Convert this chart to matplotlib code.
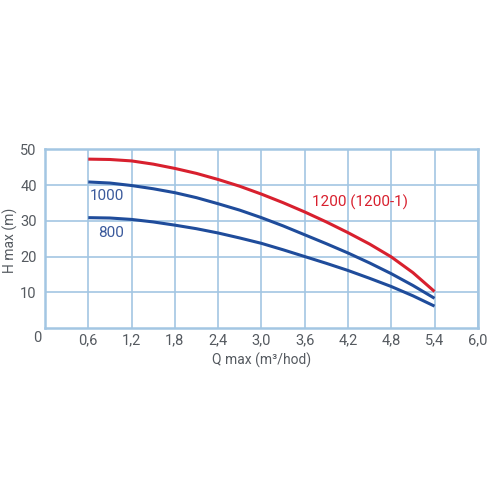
import matplotlib
matplotlib.use("Agg")
import matplotlib.pyplot as plt

# flow Q (m3/hod) and head H (m)
q = [0.6, 0.9, 1.2, 1.5, 1.8, 2.1, 2.4, 2.7, 3.0,
     3.3, 3.6, 3.9, 4.2, 4.5, 4.8, 5.1, 5.4]
h_1200 = [47.3, 47.2, 46.8, 45.9, 44.7, 43.3, 41.6, 39.7, 37.5,
          35.1, 32.5, 29.7, 26.7, 23.5, 19.9, 15.5, 10.2]
h_1000 = [40.9, 40.6, 39.9, 39.0, 37.9, 36.5, 34.8, 33.0, 30.9,
          28.6, 26.1, 23.6, 21.0, 18.2, 15.2, 11.9, 8.3]
h_800 = [30.9, 30.8, 30.4, 29.7, 28.8, 27.8, 26.6, 25.2, 23.7,
         21.9, 20.0, 18.1, 16.1, 13.9, 11.6, 9.0, 6.1]

x_ticks = [0.6, 1.2, 1.8, 2.4, 3.0, 3.6, 4.2, 4.8, 5.4, 6.0]
x_labels = ["0,6", "1,2", "1,8", "2,4", "3,0", "3,6", "4,2", "4,8", "5,4", "6,0"]
y_ticks = [10, 20, 30, 40, 50]

grid_col = "#a3c6e3"
blue = "#1f4c9b"
red = "#d8202e"
txt = "#555a60"

plt.rcParams["font.family"] = ["Roboto", "DejaVu Sans"]

fig = plt.figure(figsize=(5, 5), dpi=100)
ax = fig.add_axes([0.09, 0.3442, 0.8656, 0.3568])

ax.plot(q, h_1200, color=red, lw=2.2, solid_capstyle="butt", zorder=3)
ax.plot(q, h_1000, color=blue, lw=2.2, solid_capstyle="butt", zorder=3)
ax.plot(q, h_800, color=blue, lw=2.2, solid_capstyle="butt", zorder=3)

ax.set_xlim(0, 6.0)
ax.set_ylim(0, 50)
ax.set_xticks(x_ticks)
ax.set_xticklabels(x_labels)
ax.set_yticks(y_ticks)
ax.grid(True, color=grid_col, lw=1.2)
ax.set_axisbelow(True)
for s in ax.spines.values():
    s.set_color(grid_col)
    s.set_linewidth(1.8)
ax.tick_params(length=0, labelsize=10.5, colors=txt)
ax.tick_params(axis="x", pad=4)
ax.tick_params(axis="y", pad=6)
ax.text(-0.11, -2.9, "0", ha="center", va="center", fontsize=10.5, color=txt)

ax.text(0.62, 37.1, "1000", fontsize=11, color="#3b5a9c", va="center")
ax.text(0.73, 26.5, "800", fontsize=11, color="#3b5a9c", va="center")
ax.text(3.7, 35.1, "1200 (1200-1)", fontsize=11, color=red, va="center")

ax.set_xlabel("Q max (m³/hod)", fontsize=10, color=txt, labelpad=4)
ax.set_ylabel("H max (m)", fontsize=10, color=txt)
ax.yaxis.set_label_coords(-0.062, 0.49)

fig.savefig("out.png", dpi=100)
